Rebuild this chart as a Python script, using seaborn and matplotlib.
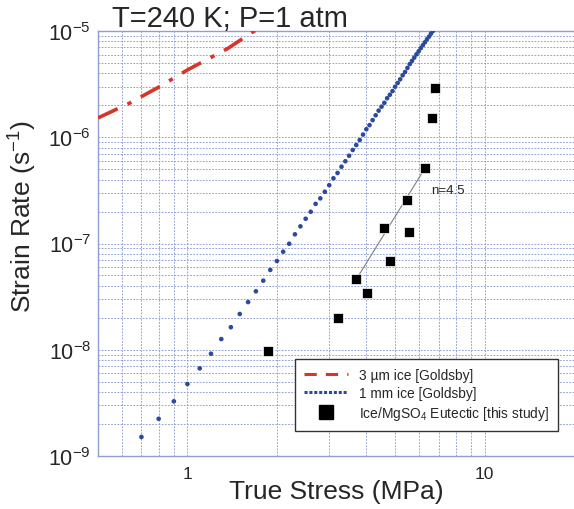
import seaborn as sns
import matplotlib.pyplot as plt
import matplotlib.ticker as mticker
from matplotlib.lines import Line2D

# 3 um ice (Goldsby)
fine_stress = [0.5, 0.64, 0.81, 1.0, 1.37, 1.63, 1.8]
fine_rate = [1.52e-6, 2.10e-6, 3.02e-6, 4.30e-6, 6.87e-6, 9.51e-6, 1.12e-5]

# 1 mm ice (Goldsby), one dot every 0.1 MPa
coarse_stress = [0.7, 0.8, 0.9, 1.0, 1.1, 1.2, 1.3, 1.4, 1.5, 1.6,
                 1.7, 1.8, 1.9, 2.0, 2.1, 2.2, 2.3, 2.4, 2.5, 2.6,
                 2.7, 2.8, 2.9, 3.0, 3.1, 3.2, 3.3, 3.4, 3.5, 3.6,
                 3.7, 3.8, 3.9, 4.0, 4.1, 4.2, 4.3, 4.4, 4.5, 4.6,
                 4.7, 4.8, 4.9, 5.0, 5.1, 5.2, 5.3, 5.4, 5.5, 5.6,
                 5.7, 5.8, 5.9, 6.0, 6.1, 6.2, 6.3, 6.4, 6.5, 6.6, 6.7]
coarse_rate = [1.51e-9, 2.24e-9, 3.27e-9, 4.76e-9, 6.68e-9, 9.18e-9, 1.26e-8, 1.63e-8, 2.17e-8, 2.81e-8,
               3.55e-8, 4.47e-8, 5.64e-8, 6.84e-8, 8.37e-8, 9.95e-8, 1.22e-7, 1.45e-7, 1.71e-7, 1.99e-7,
               2.36e-7, 2.66e-7, 3.07e-7, 3.54e-7, 4.11e-7, 4.61e-7, 5.28e-7, 5.94e-7, 6.70e-7, 7.59e-7,
               8.45e-7, 9.42e-7, 1.06e-6, 1.19e-6, 1.30e-6, 1.45e-6, 1.61e-6, 1.78e-6, 1.94e-6, 2.11e-6,
               2.33e-6, 2.51e-6, 2.72e-6, 2.99e-6, 3.24e-6, 3.51e-6, 3.83e-6, 4.11e-6, 4.49e-6, 4.88e-6,
               5.24e-6, 5.62e-6, 6.03e-6, 6.44e-6, 6.89e-6, 7.35e-6, 7.83e-6, 8.36e-6, 8.85e-6, 9.44e-6, 1.0e-5]

# Ice/MgSO4 eutectic (this study)
eut_stress = [1.86, 3.20, 3.70, 4.02, 4.79, 4.60, 5.58, 5.47, 6.31, 6.65, 6.79]
eut_rate = [9.7e-9, 2.0e-8, 4.6e-8, 3.4e-8, 6.8e-8, 1.41e-7, 1.29e-7, 2.57e-7, 5.14e-7, 1.51e-6, 2.89e-6]

# n=4.5 fit line
fit_stress = [3.70, 6.31]
fit_rate = [4.6e-8, 5.14e-7]

red = "#d8352a"
blue = "#2b4a9e"
gridc = "#8f9ed3"

sns.set_theme(style="white")
plt.rcParams["font.family"] = ["Liberation Sans", "DejaVu Sans"]
plt.rcParams["mathtext.fontset"] = "custom"
plt.rcParams["mathtext.rm"] = "Liberation Sans"
plt.rcParams["mathtext.it"] = "Liberation Sans:italic"

fig = plt.figure(figsize=(5.74, 5.10), dpi=100)
ax = fig.add_axes([98 / 574, 53 / 510, 476 / 574, 425 / 510])

sns.lineplot(x=fine_stress, y=fine_rate, ax=ax, color=red, lw=2.6, sort=False,
             zorder=3).lines[-1].set_dashes((6, 3, 1.2, 3))
sns.scatterplot(x=coarse_stress, y=coarse_rate, ax=ax, color=blue, s=11,
                edgecolor="none", zorder=3)
sns.lineplot(x=fit_stress, y=fit_rate, ax=ax, color="#808080", lw=0.8, zorder=2)
sns.scatterplot(x=eut_stress, y=eut_rate, ax=ax, color="black", marker="s", s=60,
                edgecolor="white", linewidth=0.5, zorder=4)

ax.set_xscale("log")
ax.set_yscale("log")
ax.set_xlim(0.5, 20)
ax.set_ylim(1e-9, 1e-5)

ax.grid(True, which="both", color=gridc, lw=0.65, ls=(0, (2, 1.5)))
for s in ["left", "bottom", "top"]:
    ax.spines[s].set_color(gridc)
    ax.spines[s].set_linewidth(1.0)
ax.spines["right"].set_visible(False)

ax.yaxis.set_major_locator(mticker.LogLocator(base=10))
ax.yaxis.set_minor_locator(mticker.LogLocator(base=10, subs=range(2, 10)))
ax.yaxis.set_minor_formatter(mticker.NullFormatter())
ax.xaxis.set_major_locator(mticker.FixedLocator([1, 10]))
ax.xaxis.set_major_formatter(mticker.FixedFormatter(["1", "10"]))
ax.xaxis.set_minor_locator(mticker.LogLocator(base=10, subs=range(2, 10)))
ax.xaxis.set_minor_formatter(mticker.NullFormatter())
ax.tick_params(which="both", length=0)
ax.tick_params(axis="y", labelsize=15.5, pad=5)
ax.tick_params(axis="x", labelsize=12.5, pad=7)

ax.set_xlabel("True Stress (MPa)", fontsize=19)
ax.xaxis.set_label_coords(0.5, -0.054)
ax.set_ylabel("Strain Rate (s$^{-1}$)", fontsize=19)
ax.yaxis.set_label_coords(-0.124, 0.565)

fig.text(112 / 574, 1 - 27 / 510, "T=240 K; P=1 atm", fontsize=21, va="baseline")
ax.text(6.6, 3.2e-7, "n=4.5", fontsize=9.5, va="center")

handles = [
    Line2D([], [], color=red, lw=2.2, ls=(0, (4, 3))),
    Line2D([], [], color=blue, lw=2.2, ls=(0, (1, 0.6))),
    Line2D([], [], color="black", marker="s", ls="none", markersize=10),
]
labels = ["3 µm ice [Goldsby]", "1 mm ice [Goldsby]",
          "Ice/MgSO$_4$ Eutectic [this study]"]
leg = ax.legend(handles, labels, loc="lower left", bbox_to_anchor=(0.414, 0.059),
                borderaxespad=0, fontsize=9.9, fancybox=False, framealpha=1,
                edgecolor="#333333", handlelength=3.2, labelspacing=0.3,
                borderpad=0.65)
leg.get_frame().set_linewidth(1.0)

fig.savefig("out.png", dpi=100)
